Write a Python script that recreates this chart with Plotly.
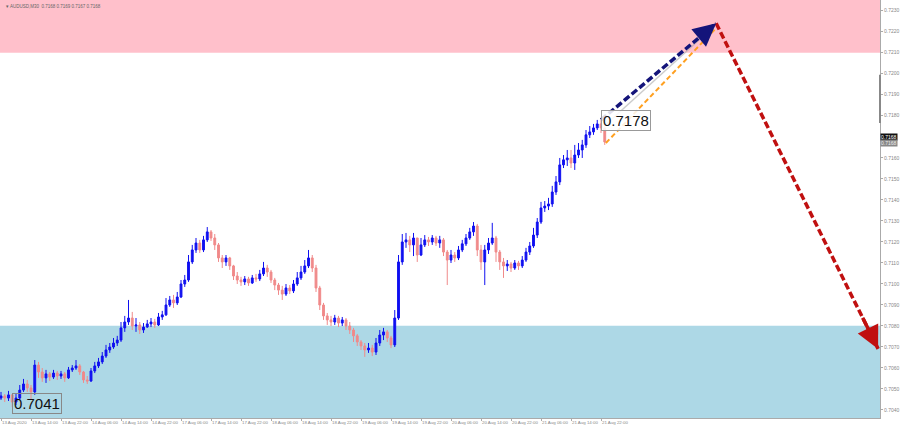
import plotly.graph_objects as go

# ---------------- data ----------------
close = [0.70466,0.70456,0.70471,0.70437,0.70456,0.70494,0.70523,0.70504,0.70485,0.70613,
         0.70580,0.70552,0.70571,0.70556,0.70575,0.70561,0.70571,0.70552,0.70590,0.70599,
         0.70609,0.70580,0.70542,0.70537,0.70585,0.70609,0.70628,0.70656,0.70685,0.70699,
         0.70718,0.70732,0.70790,0.70818,0.70837,0.70799,0.70804,0.70780,0.70794,0.70809,
         0.70818,0.70804,0.70842,0.70852,0.70899,0.70923,0.70909,0.70937,0.70999,0.71018,
         0.71104,0.71161,0.71194,0.71161,0.71209,0.71247,0.71218,0.71185,0.71123,0.71104,
         0.71123,0.71085,0.71037,0.71018,0.71009,0.71023,0.71004,0.71028,0.71023,0.71047,
         0.71075,0.71056,0.71018,0.70994,0.70970,0.70951,0.70980,0.70966,0.70999,0.71028,
         0.71056,0.71085,0.71123,0.71075,0.70980,0.70899,0.70847,0.70828,0.70818,0.70837,
         0.70813,0.70828,0.70799,0.70780,0.70752,0.70723,0.70704,0.70685,0.70694,0.70675,
         0.70718,0.70756,0.70771,0.70742,0.70709,0.70837,0.71104,0.71199,0.71209,0.71185,
         0.71218,0.71137,0.71185,0.71209,0.71199,0.71218,0.71194,0.71209,0.71151,0.71113,
         0.71137,0.71123,0.71161,0.71190,0.71218,0.71247,0.71275,0.71161,0.71104,0.71161,
         0.71194,0.71218,0.71151,0.71104,0.71085,0.71094,0.71075,0.71099,0.71085,0.71113,
         0.71151,0.71180,0.71232,0.71294,0.71361,0.71370,0.71380,0.71437,0.71485,0.71566,
         0.71590,0.71599,0.71575,0.71613,0.71637,0.71661,0.71709,0.71723,0.71742,0.71761,
         0.71742,0.71675]
high = [0.70485,0.70475,0.70490,0.70475,0.70480,0.70518,0.70547,0.70542,0.70518,0.70637,
        0.70628,0.70599,0.70590,0.70580,0.70590,0.70585,0.70585,0.70580,0.70604,0.70613,
        0.70637,0.70618,0.70585,0.70561,0.70599,0.70628,0.70647,0.70675,0.70709,0.70718,
        0.70742,0.70752,0.70818,0.70847,0.70923,0.70866,0.70837,0.70818,0.70813,0.70828,
        0.70837,0.70833,0.70861,0.70871,0.70932,0.70942,0.70947,0.70961,0.71018,0.71042,
        0.71137,0.71185,0.71218,0.71209,0.71228,0.71270,0.71256,0.71237,0.71194,0.71137,
        0.71137,0.71128,0.71090,0.71056,0.71033,0.71037,0.71033,0.71042,0.71047,0.71066,
        0.71104,0.71090,0.71066,0.71028,0.71004,0.70990,0.70999,0.70994,0.71018,0.71056,
        0.71085,0.71113,0.71161,0.71137,0.71090,0.70990,0.70909,0.70861,0.70847,0.70852,
        0.70847,0.70842,0.70837,0.70818,0.70790,0.70761,0.70732,0.70718,0.70718,0.70709,
        0.70742,0.70780,0.70790,0.70780,0.70752,0.70875,0.71137,0.71237,0.71242,0.71228,
        0.71242,0.71218,0.71218,0.71232,0.71223,0.71232,0.71228,0.71228,0.71218,0.71161,
        0.71161,0.71151,0.71180,0.71209,0.71237,0.71266,0.71294,0.71285,0.71185,0.71185,
        0.71218,0.71290,0.71228,0.71161,0.71123,0.71113,0.71104,0.71113,0.71109,0.71132,
        0.71171,0.71199,0.71266,0.71313,0.71390,0.71394,0.71409,0.71466,0.71513,0.71599,
        0.71613,0.71637,0.71637,0.71661,0.71670,0.71685,0.71732,0.71751,0.71761,0.71780,
        0.71780,0.71742]
low = [0.70447,0.70437,0.70442,0.70413,0.70423,0.70447,0.70485,0.70485,0.70447,0.70471,
       0.70552,0.70533,0.70528,0.70537,0.70547,0.70542,0.70547,0.70533,0.70547,0.70580,
       0.70590,0.70566,0.70528,0.70523,0.70533,0.70575,0.70599,0.70618,0.70647,0.70671,
       0.70690,0.70704,0.70723,0.70771,0.70804,0.70780,0.70771,0.70761,0.70766,0.70790,
       0.70794,0.70790,0.70799,0.70828,0.70847,0.70890,0.70885,0.70899,0.70932,0.70985,
       0.71009,0.71094,0.71147,0.71147,0.71151,0.71199,0.71204,0.71161,0.71104,0.71075,
       0.71085,0.71066,0.71018,0.70999,0.70990,0.70994,0.70990,0.70999,0.71009,0.71013,
       0.71037,0.71033,0.71004,0.70970,0.70947,0.70923,0.70942,0.70951,0.70956,0.70990,
       0.71018,0.71047,0.71075,0.71056,0.70961,0.70875,0.70828,0.70804,0.70799,0.70804,
       0.70794,0.70799,0.70780,0.70761,0.70723,0.70704,0.70685,0.70652,0.70671,0.70656,
       0.70661,0.70704,0.70732,0.70723,0.70694,0.70699,0.70828,0.71090,0.71171,0.71151,
       0.71132,0.71104,0.71132,0.71175,0.71180,0.71185,0.71180,0.71171,0.71132,0.70994,
       0.71099,0.71104,0.71113,0.71151,0.71180,0.71209,0.71228,0.71132,0.71066,0.70994,
       0.71142,0.71185,0.71104,0.71066,0.71028,0.71061,0.71056,0.71066,0.71066,0.71075,
       0.71104,0.71137,0.71171,0.71218,0.71285,0.71342,0.71351,0.71366,0.71423,0.71470,
       0.71551,0.71561,0.71551,0.71542,0.71599,0.71599,0.71647,0.71694,0.71709,0.71732,
       0.71718,0.71661]
first_open = 0.70456

tick_labels = ["13 Aug 2020", "13 Aug 14:00", "13 Aug 22:00", "14 Aug 06:00", "14 Aug 14:00",
               "14 Aug 22:00", "17 Aug 06:00", "17 Aug 14:00", "17 Aug 22:00", "18 Aug 06:00",
               "18 Aug 14:00", "18 Aug 22:00", "19 Aug 06:00", "19 Aug 14:00", "19 Aug 22:00",
               "20 Aug 06:00", "20 Aug 14:00", "20 Aug 22:00", "21 Aug 06:00", "21 Aug 14:00",
               "21 Aug 22:00"]
bars_per_label = 8

price_ticks = [0.7230, 0.7220, 0.7210, 0.7200, 0.7190, 0.7180, 0.7160, 0.7150, 0.7140,
               0.7130, 0.7120, 0.7110, 0.7100, 0.7090, 0.7080, 0.7070, 0.7060, 0.7050, 0.7040]

resistance_zone = [0.7210, 0.72351]   # pink
support_zone = [0.70361, 0.7080]      # light blue

# forecast wave points (bar index, price)
up_wave_x = [160, 190.7]
up_wave_y = [0.7178, 0.7224]
alt_wave_x = [161.3, 190.3]
alt_wave_y = [0.7167, 0.7221]
ghost_wave_x = [160.8, 189.8]
ghost_wave_y = [0.7175, 0.7222]
down_wave_x = [190.7, 233.9]
down_wave_y = [0.7224, 0.7069]

low_label = 0.7041
high_label = 0.7178
last_price = 0.7168
title_text = "▾ AUDUSD,M30  0.7168 0.7169 0.7167 0.7168"

# ---------------- figure ----------------
n = len(close)
xs = list(range(n))
opens = [first_open] + close[:-1]
highs = [max(h, o, c) for h, o, c in zip(high, opens, close)]
lows = [min(l, o, c) for l, o, c in zip(low, opens, close)]

fig = go.Figure()
fig.add_trace(go.Candlestick(
    x=xs, open=opens, high=highs, low=lows, close=close,
    increasing=dict(line=dict(color="#1010F0", width=1), fillcolor="#1010F0"),
    decreasing=dict(line=dict(color="#F08A8A", width=1), fillcolor="#F08A8A"),
    whiskerwidth=0, hoverinfo="skip", showlegend=False))

fig.add_trace(go.Scatter(x=ghost_wave_x, y=ghost_wave_y, mode="lines",
                         line=dict(color="rgba(170,170,170,0.6)", width=1.5),
                         hoverinfo="skip", showlegend=False))
fig.add_trace(go.Scatter(x=alt_wave_x, y=alt_wave_y, mode="lines",
                         line=dict(color="#FFA020", width=2, dash="5px,3px"),
                         hoverinfo="skip", showlegend=False))
fig.add_trace(go.Scatter(x=up_wave_x, y=up_wave_y, mode="lines",
                         line=dict(color="#14147A", width=3.5, dash="7px,3px"),
                         hoverinfo="skip", showlegend=False))
fig.add_trace(go.Scatter(x=down_wave_x, y=down_wave_y, mode="lines",
                         line=dict(color="#C01010", width=3.5, dash="7px,3px"),
                         hoverinfo="skip", showlegend=False))

def head(xp, yp, color):
    fx = 0.1
    return dict(x=xp[1], y=yp[1], ax=xp[1] - fx * (xp[1] - xp[0]), ay=yp[1] - fx * (yp[1] - yp[0]),
                xref="x", yref="y", axref="x", ayref="y", text="", showarrow=True,
                arrowhead=2, arrowsize=1.3, arrowwidth=3.5, arrowcolor=color)

annotations = [
    head(up_wave_x, up_wave_y, "#14147A"),
    head(down_wave_x, down_wave_y, "#C01010"),
    dict(x=up_wave_x[0], y=high_label - 0.00005, xref="x", yref="y", text="%.4f" % high_label,
         showarrow=False, xanchor="left", yanchor="middle",
         font=dict(family="Liberation Sans, Arial", size=15, color="#111"),
         bgcolor="rgba(255,255,255,0.85)", bordercolor="#999", borderwidth=1, borderpad=1),
    dict(x=3, y=low_label + 0.0002, xref="x", yref="y", text="%.4f" % low_label,
         showarrow=False, xanchor="left", yanchor="middle",
         font=dict(family="Liberation Sans, Arial", size=15, color="#111"),
         bgcolor="rgba(0,0,0,0)", bordercolor="#888", borderwidth=1, borderpad=1),
    dict(x=1.0, y=last_price + 0.0002, xref="paper", yref="y", text="%.4f" % last_price,
         showarrow=False, xanchor="left", yanchor="middle",
         font=dict(family="Liberation Sans, Arial", size=5, color="white"),
         bgcolor="#111", borderpad=0),
    dict(x=1.0, y=last_price - 0.0001, xref="paper", yref="y", text="%.4f" % last_price,
         showarrow=False, xanchor="left", yanchor="middle",
         font=dict(family="Liberation Sans, Arial", size=5, color="#eee"),
         bgcolor="#888", borderpad=0),
    dict(x=0.004, y=0.996, xref="paper", yref="paper", text=title_text, showarrow=False,
         xanchor="left", yanchor="top",
         font=dict(family="Liberation Sans, Arial", size=4.5, color="#666")),
]

shapes = [
    dict(type="rect", xref="x domain", yref="y", x0=0, x1=1,
         y0=resistance_zone[0], y1=resistance_zone[1],
         fillcolor="#FFC0CB", line=dict(width=0), layer="below"),
    dict(type="rect", xref="x domain", yref="y", x0=0, x1=1,
         y0=support_zone[0], y1=support_zone[1],
         fillcolor="#ADD8E6", line=dict(width=0), layer="below"),
    dict(type="line", xref="x domain", yref="y", x0=1, x1=1, y0=0.71995, y1=0.71766,
         line=dict(color="#888", width=2)),
]

fig.update_layout(
    width=900, height=428, autosize=False,
    margin=dict(l=0, r=20, t=0, b=10, pad=0),
    paper_bgcolor="white", plot_bgcolor="white",
    showlegend=False, annotations=annotations, shapes=shapes,
    font=dict(family="Liberation Sans, Arial"),
    xaxis=dict(range=[-0.27, 234.4], rangeslider=dict(visible=False),
               tickvals=[i * bars_per_label for i in range(len(tick_labels))],
               ticktext=tick_labels, ticklabelposition="outside right", tickangle=0,
               tickfont=dict(size=4.4, color="#888"), ticks="outside", ticklen=2,
               tickcolor="#aaa", showgrid=False, zeroline=False, automargin=False,
               showline=True, linecolor="#aaa", linewidth=1),
    yaxis=dict(range=[0.70361, 0.72351], side="right", tickvals=price_ticks,
               tickformat=".4f", tickfont=dict(size=5, color="#888"), automargin=False,
               ticks="outside", ticklen=2, tickcolor="#aaa", showgrid=False,
               zeroline=False, showline=True, linecolor="#aaa", linewidth=1),
)

fig.write_html("out.html", config=dict(displayModeBar=False),
               post_script="document.body.style.margin='0';document.body.style.overflow='hidden';")
